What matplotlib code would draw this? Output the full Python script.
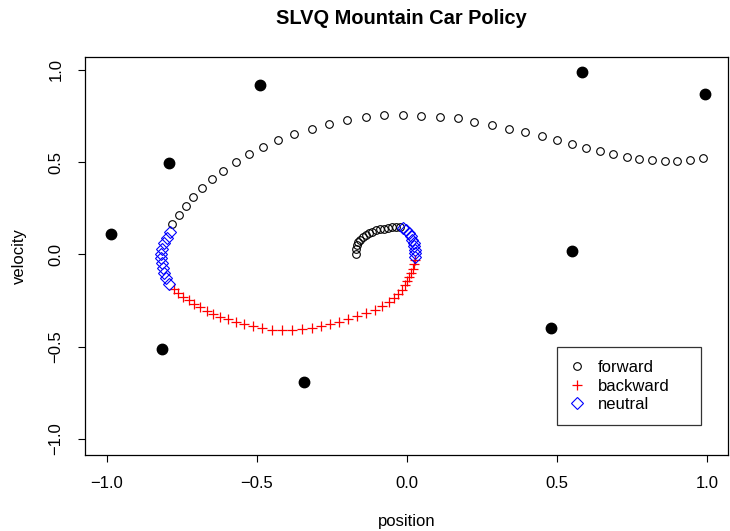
import matplotlib
matplotlib.use("Agg")
import matplotlib.pyplot as plt

plt.rcParams["font.family"] = ["Liberation Sans", "DejaVu Sans"]

# prototypes (filled dots)
proto_x = [-0.987, -0.792, -0.49, 0.583, 0.993, 0.55, 0.48, -0.343, -0.816]
proto_y = [0.113, 0.498, 0.919, 0.989, 0.87, 0.019, -0.40, -0.69, -0.514]

# forward action states
fwd_x = [-0.171, -0.170, -0.167, -0.162, -0.155, -0.147, -0.137, -0.127, -0.115, -0.103,
         -0.090, -0.077, -0.063, -0.050, -0.037, -0.023,
         -0.782, -0.759, -0.738, -0.712, -0.682, -0.650, -0.612, -0.571, -0.527, -0.479,
         -0.429, -0.376, -0.318, -0.259, -0.199, -0.138, -0.077, -0.014, 0.048, 0.110,
         0.169, 0.224, 0.282, 0.339, 0.394, 0.449, 0.500, 0.549, 0.597, 0.643,
         0.688, 0.732, 0.774, 0.817, 0.859, 0.901, 0.943, 0.986]
fwd_y = [0.000, 0.027, 0.049, 0.066, 0.080, 0.093, 0.105, 0.114, 0.122, 0.130,
         0.136, 0.140, 0.144, 0.146, 0.147, 0.146,
         0.165, 0.214, 0.263, 0.310, 0.359, 0.408, 0.454, 0.500, 0.545, 0.583,
         0.621, 0.655, 0.682, 0.709, 0.729, 0.745, 0.754, 0.756, 0.752, 0.747,
         0.738, 0.718, 0.702, 0.682, 0.662, 0.642, 0.621, 0.601, 0.579, 0.563,
         0.545, 0.530, 0.519, 0.512, 0.507, 0.507, 0.512, 0.521]

# backward action states
bwd_x = [0.027, 0.023, 0.019, 0.013, 0.007, 0.000, -0.008, -0.018, -0.030, -0.043,
         -0.060, -0.082, -0.108, -0.137, -0.167, -0.197, -0.227, -0.257, -0.287, -0.318,
         -0.350, -0.383, -0.417, -0.450, -0.483, -0.513, -0.542, -0.570, -0.597, -0.622,
         -0.645, -0.668, -0.690, -0.710, -0.728, -0.745, -0.762, -0.777]
bwd_y = [-0.030, -0.054, -0.079, -0.102, -0.125, -0.146, -0.168, -0.191, -0.214, -0.237,
         -0.257, -0.278, -0.300, -0.319, -0.336, -0.351, -0.366, -0.379, -0.390, -0.399,
         -0.405, -0.409, -0.409, -0.407, -0.400, -0.390, -0.378, -0.365, -0.351, -0.337,
         -0.322, -0.306, -0.287, -0.268, -0.248, -0.229, -0.208, -0.187]

# neutral action states
neu_x = [-0.012, -0.002, 0.006, 0.013, 0.018, 0.022, 0.025, 0.027, 0.028, 0.028,
         -0.790, -0.801, -0.809, -0.815, -0.819, -0.820, -0.818, -0.813, -0.809, -0.803, -0.793]
neu_y = [0.142, 0.130, 0.115, 0.098, 0.080, 0.061, 0.043, 0.024, 0.006, -0.012,
         0.124, 0.091, 0.060, 0.028, 0.003, -0.021, -0.048, -0.075, -0.099, -0.126, -0.162]

ticks = [-1.0, -0.5, 0.0, 0.5, 1.0]
tick_labels = ["\u22121.0", "\u22120.5", "0.0", "0.5", "1.0"]

fig = plt.figure(figsize=(7.3, 5.31), dpi=100)
W, H = 730, 531
ax = fig.add_axes([85 / W, 1 - 455 / H, (728 - 85) / W, (455 - 57) / H])

ax.plot(proto_x, proto_y, "o", color="black", markersize=7.5, linestyle="none")
ax.plot(fwd_x, fwd_y, "o", mfc="none", mec="black", mew=0.8, markersize=5.5, linestyle="none",
        label="forward")
ax.plot(bwd_x, bwd_y, "+", color="red", mew=0.9, markersize=7, linestyle="none",
        label="backward")
ax.plot(neu_x, neu_y, "D", mfc="none", mec="blue", mew=0.8, markersize=6.3, linestyle="none",
        label="neutral")

ax.set_xlim(-1.073, 1.07)
ax.set_ylim(-1.087, 1.07)
ax.set_xticks(ticks)
ax.set_xticklabels(tick_labels)
ax.set_yticks(ticks)
ax.set_yticklabels(tick_labels, rotation=90, va="center")
ax.tick_params(direction="out", length=5, width=0.8, labelsize=12)
ax.tick_params(axis="x", pad=10)
ax.tick_params(axis="y", pad=10.5)
for s in ax.spines.values():
    s.set_linewidth(0.9)

ax.set_xlabel("position", fontsize=12, labelpad=16.5)
ax.set_ylabel("velocity", fontsize=12, labelpad=15.5)
fig.text(401 / W, 1 - 18 / H, "SLVQ Mountain Car Policy", fontsize=14.4, fontweight="bold",
         ha="center", va="center")

leg = ax.legend(loc="upper left", bbox_to_anchor=(0.734, 0.0779, 0.224, 0.193),
                mode="expand", fontsize=12, frameon=True, fancybox=False,
                edgecolor="black", handlelength=0.9, handletextpad=0.75,
                borderpad=0.78, labelspacing=0.21, borderaxespad=0)
leg.get_frame().set_linewidth(0.9)

fig.savefig("out.png", dpi=100)
